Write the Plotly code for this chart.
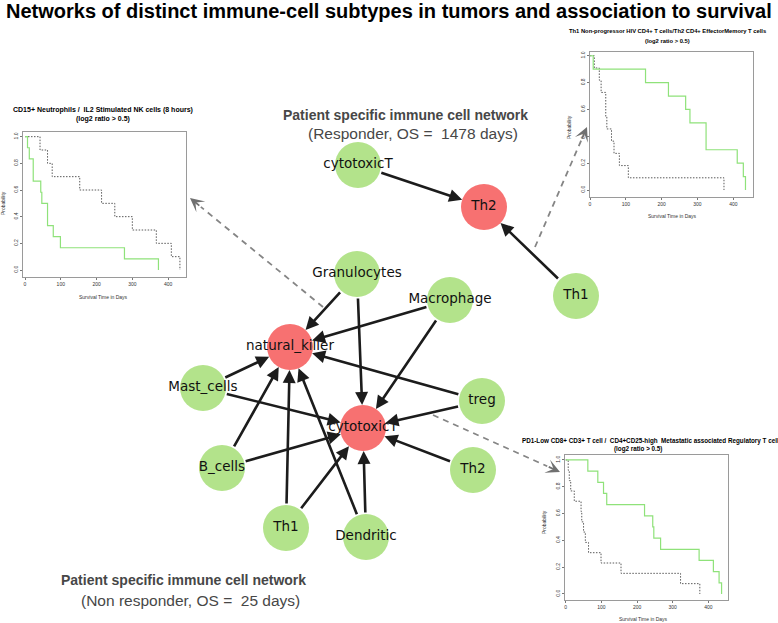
import plotly.graph_objects as go

W, H = 778, 623

# ---------------- data ----------------
title_text = "Networks of distinct immune-cell subtypes in tumors and association to survival"

# responder network (top)
resp_nodes = ["cytotoxicT", "Th2", "Th1"]
resp_is_red = [False, True, False]
resp_edges = [("cytotoxicT", "Th2"), ("Th1", "Th2")]

# non-responder network (bottom)
nonresp_nodes = ["Granulocytes", "Macrophage", "natural_killer", "Mast_cells", "treg",
                 "cytotoxicT", "B_cells", "Th2", "Th1", "Dendritic"]
nonresp_is_red = [False, False, True, False, False, True, False, False, False, False]
nonresp_edges = [
    ("Granulocytes", "natural_killer"), ("Granulocytes", "cytotoxicT"),
    ("Macrophage", "natural_killer"), ("Macrophage", "cytotoxicT"),
    ("treg", "natural_killer"), ("treg", "cytotoxicT"),
    ("Mast_cells", "natural_killer"), ("Mast_cells", "cytotoxicT"),
    ("B_cells", "natural_killer"), ("B_cells", "cytotoxicT"),
    ("Th1", "natural_killer"), ("Th1", "cytotoxicT"),
    ("Dendritic", "natural_killer"), ("Dendritic", "cytotoxicT"),
    ("Th2", "cytotoxicT"),
]

resp_caption = ["Patient specific immune cell network", "(Responder, OS =  1478 days)"]
nonresp_caption = ["Patient specific immune cell network", "(Non responder, OS =  25 days)"]

# Kaplan-Meier insets (days, survival probability)
km1_title = ["CD15+ Neutrophils /  IL2 Stimulated NK cells (8 hours)", "(log2 ratio > 0.5)"]
km1_green_t = [0, 7, 12, 23, 44, 47, 63, 79, 99, 278, 373]
km1_green_s = [1.0, 0.917, 0.833, 0.667, 0.583, 0.5, 0.333, 0.25, 0.167, 0.083, 0.0]
km1_gray_t = [0, 42, 63, 76, 153, 214, 251, 300, 367, 409, 433]
km1_gray_s = [1.0, 0.9, 0.8, 0.7, 0.6, 0.5, 0.4, 0.3, 0.2, 0.1, 0.0]

km2_title = ["Th1 Non-progressor HIV CD4+ T cells/Th2 CD4+ EffectorMemory T cells", "(log2 ratio > 0.5)"]
km2_green_t = [0, 9, 155, 219, 267, 279, 324, 411, 428, 434]
km2_green_s = [1.0, 0.9, 0.8, 0.7, 0.6, 0.5, 0.3, 0.2, 0.1, 0.0]
km2_gray_t = [0, 12, 26, 31, 44, 47, 60, 67, 82, 107, 374]
km2_gray_s = [1.0, 0.909, 0.818, 0.727, 0.545, 0.455, 0.364, 0.273, 0.182, 0.091, 0.0]

km3_title = ["PD1-Low CD8+ CD3+ T cell /  CD4+CD25-high  Metastatic associated Regulatory T cell", "(log2 ratio > 0.5)"]
km3_green_t = [0, 62, 90, 106, 115, 221, 244, 247, 266, 374, 414, 430, 437]
km3_green_s = [1.0, 0.917, 0.833, 0.75, 0.667, 0.583, 0.5, 0.417, 0.333, 0.25, 0.167, 0.083, 0.0]
km3_gray_t = [0, 7, 10, 14, 24, 43, 45, 50, 55, 64, 99, 155, 322, 376]
km3_gray_s = [1.0, 0.923, 0.846, 0.769, 0.692, 0.615, 0.538, 0.462, 0.385, 0.308, 0.231, 0.154, 0.077, 0.0]

x_tickvals = [0, 100, 200, 300, 400]
y_tickvals = [0.0, 0.2, 0.4, 0.6, 0.8, 1.0]
y_ticktext = ["0.0", "0.2", "0.4", "0.6", "0.8", "1.0"]
x_label = "Survival Time in Days"
y_label = "Probability"

# ---------------- layout (pixel positions on canvas) ----------------
resp_pos = {"cytotoxicT": (358, 165), "Th2": (484, 207), "Th1": (576, 296)}
nonresp_pos = {
    "Granulocytes": (357, 274), "Macrophage": (450, 300), "natural_killer": (290, 347),
    "Mast_cells": (203, 388), "treg": (482, 401), "cytotoxicT": (363, 428),
    "B_cells": (222, 468), "Th2": (473, 470), "Th1": (286, 528), "Dendritic": (366, 537),
}
R = 23
GREEN = "#b3e38b"
RED = "#f77171"
KM_GREEN = "#8fe27a"
KM_GRAY = "#5a5a5a"

fig = go.Figure()

# main canvas axis (pixel coordinates)
fig.update_layout(
    xaxis=dict(domain=[0, 1], range=[0, W], visible=False, fixedrange=True),
    yaxis=dict(domain=[0, 1], range=[H, 0], visible=False, fixedrange=True),
)

def add_network(nodes, is_red, pos, edges, size):
    fig.add_trace(go.Scatter(
        x=[pos[n][0] for n in nodes], y=[pos[n][1] for n in nodes],
        mode="markers+text", text=nodes, textposition="middle center",
        marker=dict(size=size, color=[RED if r else GREEN for r in is_red], line=dict(width=0)),
        textfont=dict(family="DejaVu Sans", size=13.5, color="#111111"),
        hoverinfo="skip", showlegend=False, xaxis="x", yaxis="y",
    ))
    for s, t in edges:
        fig.add_annotation(
            x=pos[t][0], y=pos[t][1], ax=pos[s][0], ay=pos[s][1],
            xref="x", yref="y", axref="x", ayref="y", text="",
            showarrow=True, arrowhead=2, arrowsize=1, arrowwidth=2.6,
            arrowcolor="#1c1c1c", standoff=size / 2, startstandoff=size / 2,
        )

add_network(nonresp_nodes, nonresp_is_red, nonresp_pos, nonresp_edges, 2 * R)
add_network(resp_nodes, resp_is_red, resp_pos, resp_edges, 2 * R)

# dashed pointer arrows to insets
pointers = [((323, 307), (190, 198)), ((535, 247), (587, 127)), ((433, 415), (560, 472))]
for (x0, y0), (x1, y1) in pointers:
    dx, dy = x1 - x0, y1 - y0
    L = (dx * dx + dy * dy) ** 0.5
    ux, uy = dx / L, dy / L
    fig.add_shape(type="line", xref="x", yref="y", x0=x0, y0=y0, x1=x1 - ux * 14, y1=y1 - uy * 14,
                  line=dict(color="#858585", width=1.8, dash="6px,5px"))
    fig.add_annotation(x=x1, y=y1, ax=x1 - ux * 14, ay=y1 - uy * 14, xref="x", yref="y",
                       axref="x", ayref="y", text="", showarrow=True, arrowhead=3,
                       arrowsize=1.3, arrowwidth=1.8, arrowcolor="#707070", standoff=0)

# captions
def caption(lines, pos1, pos2):
    fig.add_annotation(x=pos1[0], y=pos1[1], xref="x", yref="y", showarrow=False,
                       text="<b>" + lines[0] + "</b>",
                       font=dict(family="Liberation Sans", size=14, color="#474747"))
    fig.add_annotation(x=pos2[0], y=pos2[1], xref="x", yref="y", showarrow=False,
                       text=lines[1], font=dict(family="Liberation Sans", size=15.5, color="#474747"))

caption(resp_caption, (405, 115), (413, 133))
caption(nonresp_caption, (183, 580), (190, 600))

fig.add_annotation(x=389, y=11, xref="x", yref="y", showarrow=False,
                   text="<b>" + title_text + "</b>",
                   font=dict(family="Liberation Sans", size=20, color="#000000"))

# ---------------- KM insets ----------------
insets = [
    dict(box=(23, 186, 132, 277), xr=[-5.6, 450], yr=[-0.0525, 1.035],
         green=(km1_green_t, km1_green_s), gray=(km1_gray_t, km1_gray_s), title=km1_title,
         tpos1=(103, 110), tpos2=(103, 119), tsize=7.0, anchor1="center",
         xl=(103, 297), yl=(3, 203)),
    dict(box=(590, 753, 52, 197), xr=[0, 455], yr=[-0.052, 1.028],
         green=(km2_green_t, km2_green_s), gray=(km2_gray_t, km2_gray_s), title=km2_title,
         tpos1=(667, 31), tpos2=(667, 40.5), tsize=5.8, anchor1="center",
         xl=(672, 216), yl=(569, 127)),
    dict(box=(565, 728, 455, 600), xr=[-2, 455], yr=[-0.045, 1.037],
         green=(km3_green_t, km3_green_s), gray=(km3_gray_t, km3_gray_s), title=km3_title,
         tpos1=(520, 441), tpos2=(638, 448.5), tsize=6.3, anchor1="left",
         xl=(643, 619), yl=(544, 522)),
]

for i, ins in enumerate(insets, start=2):
    x0, x1, y0, y1 = ins["box"]
    xa, ya = f"x{i}", f"y{i}"
    axis_common = dict(showgrid=False, zeroline=False, showline=True, mirror=True,
                       linecolor="#9a9a9a", linewidth=1, ticks="outside", ticklen=2,
                       tickcolor="#777777", tickfont=dict(family="Liberation Sans", size=5, color="#333333"),
                       fixedrange=True)
    fig.update_layout(**{
        f"xaxis{i}": dict(domain=[x0 / W, x1 / W], range=ins["xr"], anchor=ya,
                          tickvals=x_tickvals, **axis_common),
        f"yaxis{i}": dict(domain=[1 - y1 / H, 1 - y0 / H], range=ins["yr"], anchor=xa,
                          tickvals=y_tickvals, ticktext=y_ticktext, tickangle=-90, **axis_common),
    })
    gt, gs = ins["gray"]
    fig.add_trace(go.Scatter(x=gt, y=gs, mode="lines", line=dict(color=KM_GRAY, width=1, dash="1.5px,1.5px", shape="hv"),
                             xaxis=xa, yaxis=ya, showlegend=False, hoverinfo="skip"))
    gt, gs = ins["green"]
    fig.add_trace(go.Scatter(x=gt, y=gs, mode="lines", line=dict(color=KM_GREEN, width=1.2, shape="hv"),
                             xaxis=xa, yaxis=ya, showlegend=False, hoverinfo="skip"))
    fig.add_annotation(x=ins["tpos1"][0], y=ins["tpos1"][1], xref="x", yref="y", showarrow=False,
                       xanchor=ins["anchor1"], text="<b>" + ins["title"][0] + "</b>",
                       font=dict(family="Liberation Sans", size=ins["tsize"], color="#000000"))
    fig.add_annotation(x=ins["tpos2"][0], y=ins["tpos2"][1], xref="x", yref="y", showarrow=False,
                       text="<b>" + ins["title"][1] + "</b>",
                       font=dict(family="Liberation Sans", size=ins["tsize"], color="#000000"))
    fig.add_annotation(x=ins["xl"][0], y=ins["xl"][1], xref="x", yref="y", showarrow=False,
                       text=x_label, font=dict(family="Liberation Sans", size=5, color="#333333"))
    fig.add_annotation(x=ins["yl"][0], y=ins["yl"][1], xref="x", yref="y", showarrow=False,
                       text=y_label, textangle=-90,
                       font=dict(family="Liberation Sans", size=5, color="#333333"))

fig.update_layout(width=W, height=H, margin=dict(l=0, r=0, t=0, b=0),
                  paper_bgcolor="white", plot_bgcolor="white", showlegend=False)

fig.write_html("out.html", config={"displayModeBar": False, "staticPlot": True},
               post_script="document.body.style.margin='0';document.body.style.overflow='hidden';")
